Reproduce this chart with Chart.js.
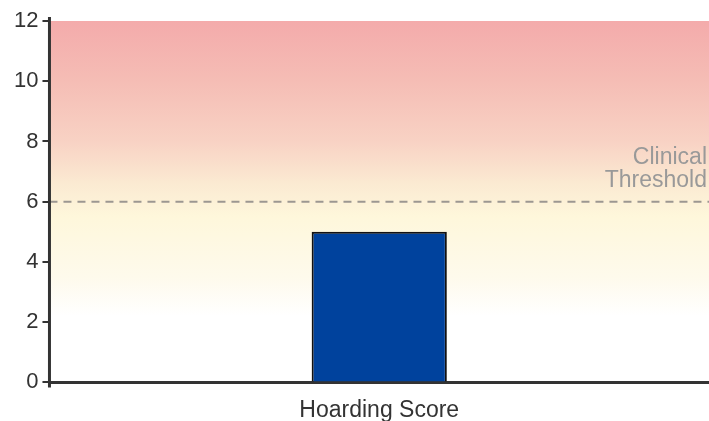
<!DOCTYPE html>
<html>
<head>
<meta charset="utf-8">
<script src="https://cdn.jsdelivr.net/npm/chart.js@4"></script>
<style>
  html, body { margin: 0; padding: 0; background: #fff; }
  #wrap { width: 709px; height: 421px; }
</style>
</head>
<body>
<div id="wrap"><canvas id="c" width="709" height="421"></canvas></div>
<script>
// Score data
const categories = ['Hoarding Score'];
const scores = [5];
const yTicks = [0, 2, 4, 6, 8, 10, 12];
const thresholdValue = 6;
const thresholdLabel = ['Clinical', 'Threshold'];

// Severity background: colour stops keyed by score value
const bandValues = [12, 10, 8, 6.6, 5.5, 3.5, 2.2];
const bandColors = ['#F4ABAB', '#F5BDB5', '#F8D2C4', '#FBEAD2', '#FEF7DB', '#FEFAEC', '#FFFFFF'];

const FONT = '"Liberation Sans", Arial, sans-serif';
const AXIS_COLOR = '#333333';

const severityBackground = {
  id: 'severityBackground',
  beforeDraw(chart) {
    const { ctx, chartArea: a, scales: { y } } = chart;
    const top = y.getPixelForValue(y.max);
    const bottom = y.getPixelForValue(y.min);
    const g = ctx.createLinearGradient(0, top, 0, bottom);
    bandValues.forEach((v, i) => {
      const p = (y.getPixelForValue(v) - top) / (bottom - top);
      g.addColorStop(Math.min(1, Math.max(0, p)), bandColors[i]);
    });
    ctx.save();
    ctx.fillStyle = g;
    ctx.fillRect(a.left, a.top, a.right - a.left, a.bottom - a.top);
    ctx.restore();
  }
};

const thresholdLine = {
  id: 'thresholdLine',
  beforeDatasetsDraw(chart) {
    const { ctx, chartArea: a, scales: { y } } = chart;
    const py = y.getPixelForValue(thresholdValue);
    ctx.save();
    ctx.strokeStyle = '#9c9791';
    ctx.lineWidth = 2;
    ctx.setLineDash([8, 6]);
    ctx.beginPath();
    ctx.moveTo(a.left, py);
    ctx.lineTo(a.right, py);
    ctx.stroke();
    ctx.setLineDash([]);
    ctx.fillStyle = '#999999';
    ctx.font = '23px ' + FONT;
    ctx.textAlign = 'right';
    ctx.textBaseline = 'alphabetic';
    ctx.fillText(thresholdLabel[0], a.right - 2, py - 38);
    ctx.fillText(thresholdLabel[1], a.right - 2, py - 15);
    ctx.restore();
  }
};

// Y axis spine, running slightly past both ends of the plot area
const ySpine = {
  id: 'ySpine',
  afterDraw(chart) {
    const { ctx, chartArea: a } = chart;
    ctx.save();
    ctx.strokeStyle = AXIS_COLOR;
    ctx.lineWidth = 3;
    ctx.beginPath();
    ctx.moveTo(a.left, a.top - 4);
    ctx.lineTo(a.left, a.bottom + 5);
    ctx.stroke();
    ctx.restore();
  }
};

new Chart(document.getElementById('c'), {
  type: 'bar',
  data: {
    labels: categories,
    datasets: [{
      data: scores,
      backgroundColor: '#00429D',
      borderColor: '#111111',
      borderWidth: 2,
      borderSkipped: 'bottom',
      barPercentage: 0.205,
      categoryPercentage: 1
    }]
  },
  options: {
    responsive: false,
    animation: false,
    layout: { padding: { top: 21, left: 10, right: 0, bottom: -17 } },
    plugins: { legend: { display: false }, tooltip: { enabled: false } },
    scales: {
      x: {
        grid: { display: false, drawTicks: false },
        border: { display: true, color: AXIS_COLOR, width: 3 },
        ticks: {
          color: AXIS_COLOR,
          padding: 14,
          font: { family: FONT, size: 23 }
        }
      },
      y: {
        min: 0,
        max: 12,
        afterBuildTicks(scale) { scale.ticks = yTicks.map(v => ({ value: v })); },
        grid: { drawOnChartArea: false, drawTicks: true, tickLength: 7, color: AXIS_COLOR, lineWidth: 2 },
        border: { display: false },
        ticks: {
          color: AXIS_COLOR,
          padding: 4,
          font: { family: FONT, size: 22 }
        }
      }
    }
  },
  plugins: [severityBackground, thresholdLine, ySpine]
});
</script>
</body>
</html>
